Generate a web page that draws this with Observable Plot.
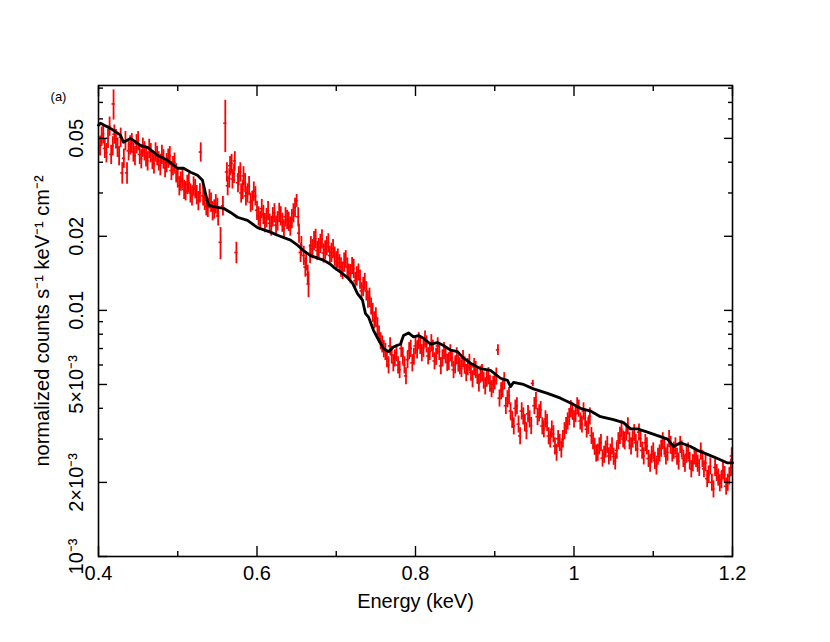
<!DOCTYPE html>
<html><head><meta charset="utf-8">
<script src="https://cdn.jsdelivr.net/npm/d3@7"></script>
<script src="https://cdn.jsdelivr.net/npm/@observablehq/plot@0.6"></script>
<style>body{margin:0;background:#fff;}</style>
</head><body><div id="chart"></div>
<script>
// Model (black line)
const modelEnergy = [0.400,0.4025,0.4151,0.4278,0.4315,0.4404,0.4530,0.4618,0.4744,0.4871,
  0.4997,0.5073,0.5161,0.5249,0.5312,0.5350,0.5388,0.5502,0.5577,0.5666,
  0.5754,0.5880,0.6006,0.6170,0.6259,0.6423,0.6511,0.6587,0.6675,0.6839,
  0.6927,0.6965,0.7054,0.7142,0.7205,0.7268,0.7331,0.7369,0.7407,0.7470,
  0.7533,0.7596,0.7659,0.7722,0.7811,0.7849,0.7912,0.7975,0.8038,0.8101,
  0.8189,0.8278,0.8353,0.8442,0.8530,0.8606,0.8694,0.8820,0.8946,0.9073,
  0.9161,0.9199,0.9237,0.9363,0.9489,0.9666,0.9830,0.9956,1.0082,1.0208,
  1.0334,1.0498,1.0625,1.0713,1.0801,1.0927,1.1054,1.1180,1.1256,1.1344,
  1.1470,1.1558,1.1685,1.1811,1.1937,1.2000];
const modelCounts = [0.0565,0.0576,0.0549,0.0515,0.0482,0.0500,0.0468,0.0460,0.0427,0.0407,
  0.0378,0.0378,0.0364,0.0354,0.0338,0.0299,0.0267,0.0262,0.0260,0.0250,
  0.0239,0.0232,0.0217,0.0208,0.0202,0.0193,0.0184,0.0175,0.0167,0.0160,
  0.0154,0.0150,0.0143,0.0136,0.0129,0.0117,0.0110,0.0097,0.0094,0.0083,
  0.0076,0.0070,0.0068,0.0071,0.0073,0.0079,0.0081,0.0078,0.0079,0.0077,
  0.0073,0.0074,0.0072,0.0069,0.0068,0.0064,0.0061,0.0058,0.0057,0.0053,
  0.0052,0.0049,0.0051,0.0050,0.0048,0.0046,0.0044,0.0042,0.0040,0.0039,
  0.0037,0.0036,0.0035,0.0033,0.0033,0.0032,0.0031,0.0030,0.0028,0.0029,
  0.0028,0.0027,0.0026,0.0025,0.0024,0.0024];

// Data (red crosses): bin energy, counts, relative error
const redEnergy = [
  0.402,0.406,0.410,0.414,0.418,0.419,0.422,0.426,0.430,0.434,0.436,0.438,0.442,0.446,0.450,0.454,0.458,0.462,0.466,0.470,0.474,0.478,0.482,0.486,0.490,0.494,0.498,
  0.502,0.506,0.510,0.514,0.518,0.522,0.526,0.529,0.532,0.536,0.540,0.544,0.548,0.551,0.554,0.557,0.560,0.563,0.566,0.569,0.572,0.574,0.577,0.580,0.583,0.586,0.590,0.594,0.598,
  0.602,0.606,0.610,0.614,0.618,0.622,0.626,0.630,0.634,0.638,0.642,0.646,0.650,0.653,0.656,0.659,0.662,0.665,0.668,0.672,0.676,0.680,0.684,0.688,0.692,0.696,0.700,
  0.704,0.708,0.712,0.716,0.720,0.724,0.728,0.732,0.736,0.740,0.744,0.748,0.752,0.756,0.760,0.764,0.768,0.772,0.776,0.780,0.784,0.788,0.792,0.796,0.800,
  0.804,0.808,0.812,0.816,0.820,0.824,0.828,0.832,0.836,0.840,0.844,0.848,0.852,0.856,0.860,0.864,0.868,0.872,0.876,0.880,0.884,0.888,0.892,0.896,0.900,
  0.904,0.908,0.912,0.916,0.920,0.924,0.928,0.932,0.936,0.940,0.944,0.948,0.952,0.956,0.960,0.964,0.968,0.972,0.976,0.980,0.984,0.988,0.992,0.996,1.000,
  1.004,1.008,1.012,1.016,1.020,1.024,1.028,1.032,1.036,1.040,1.044,1.048,1.052,1.056,1.060,1.064,1.068,1.072,1.076,1.080,1.084,1.088,1.092,1.096,1.100,
  1.104,1.108,1.112,1.116,1.120,1.124,1.128,1.132,1.136,1.140,1.144,1.148,1.152,1.156,1.160,1.164,1.168,1.172,1.176,1.180,1.184,1.188,1.192,1.196,1.199,
  0.404,0.408,0.412,0.416,0.420,0.424,0.428,0.432,0.440,0.444,0.448,0.452,0.456,0.460,0.464,0.468,0.472,0.476,0.480,0.484,0.488,0.492,0.496,0.500,
  0.504,0.508,0.512,0.516,0.520,0.524,0.528,0.534,0.538,0.542,0.546,0.550,0.562,0.565,0.568,0.571,0.576,0.579,0.582,0.585,0.588,0.592,0.596,0.600,
  0.604,0.608,0.612,0.616,0.620,0.624,0.628,0.632,0.636,0.640,0.644,0.648,0.652,0.655,0.661,0.664,0.667,0.670,0.674,0.678,0.682,0.686,0.690,0.694,0.698,
  0.702,0.706,0.710,0.714,0.718,0.722,0.726,0.730,0.734,0.738,0.742,0.746,0.750,
  0.754,0.758,0.762,0.766,0.770,0.774,0.778,0.782,0.786,0.790,0.794,0.798,0.802,0.806,0.810,0.814,0.818,0.822,0.826,
  0.830,0.834,0.838,0.842,0.846,0.850,0.854,0.858,0.862,0.866,0.870,0.874,0.878,0.882,0.886,0.890,0.894,0.898,
  0.902,0.906,0.910,0.914,0.918,0.922,0.926,0.930,0.934,0.938,0.942,0.946,0.950,0.954,0.958,0.962,0.966,0.970,0.974,0.978,0.982,0.986,0.990,0.994,0.998,
  1.002,1.006,1.010,1.014,1.018,1.022,1.026,1.030,1.034,1.038,1.042,1.046,1.050,1.054,1.058,1.062,1.066,1.070,1.074,1.078,1.082,1.086,1.090,1.094,1.098,
  1.102,1.106,1.110,1.114,1.118,1.122,1.126,1.130,1.134,1.138,1.142,1.146,1.150,1.154,1.158,1.162,1.166,1.170,1.174,1.178,1.182,1.186,1.190,1.194,1.198];
const redCounts = [
  0.0466,0.0522,0.0437,0.0560,0.0466,0.0690,0.0498,0.0425,0.0362,0.0489,0.0362,0.0445,0.0480,0.0425,0.0489,0.0413,0.0445,0.0405,0.0437,0.0394,0.0425,0.0387,0.0413,0.0398,0.0425,0.0387,0.0362,
  0.0321,0.0342,0.0306,0.0330,0.0292,0.0312,0.0279,0.0440,0.0292,0.0266,0.0284,0.0254,0.0271,0.0242,0.0189,0.0266,0.0576,0.0321,0.0387,0.0342,0.0405,0.0172,0.0352,0.0300,0.0352,0.0292,0.0321,0.0279,0.0292,
  0.0242,0.0259,0.0227,0.0254,0.0220,0.0249,0.0231,0.0242,0.0214,0.0234,0.0220,0.0249,0.0279,0.0206,0.0183,0.0167,0.0159,0.0128,0.0183,0.0192,0.0175,0.0187,0.0171,0.0183,0.0167,0.0178,0.0159,
  0.0156,0.0145,0.0162,0.0143,0.0152,0.0132,0.0143,0.0120,0.0131,0.0111,0.0104,0.00914,0.00865,0.00752,0.00698,0.00636,0.00717,0.00612,0.00672,0.00574,0.00653,0.00542,0.00685,0.00612,0.00717,
  0.00752,0.00672,0.00764,0.00653,0.00738,0.00623,0.00717,0.00595,0.00685,0.00614,0.00672,0.00574,0.00653,0.00595,0.00636,0.00558,0.00614,0.00527,0.00574,0.00507,0.00558,0.00493,0.00542,0.00480,0.00517,
  0.00691,0.00471,0.00517,0.00437,0.00390,0.00339,0.00409,0.00309,0.00372,0.00324,0.00362,0.00505,0.00429,0.00383,0.00339,0.00362,0.00309,0.00329,0.00281,0.00301,0.00273,0.00324,0.00355,0.00398,0.00362,
  0.00409,0.00355,0.00390,0.00329,0.00372,0.00295,0.00263,0.00281,0.00251,0.00273,0.00256,0.00281,0.00244,0.00295,0.00329,0.00295,0.00339,0.00281,0.00318,0.00273,0.00301,0.00256,0.00281,0.00239,0.00268,
  0.00233,0.00263,0.00295,0.00256,0.00301,0.00263,0.00281,0.00244,0.00273,0.00239,0.00268,0.00227,0.00256,0.00239,0.00268,0.00227,0.00207,0.00233,0.00188,0.00219,0.00199,0.00223,0.00193,0.00212,0.00256,
  0.0510,0.0455,0.0500,0.0430,0.0520,0.0460,0.0505,0.0415,0.0470,0.0440,0.0475,0.0430,0.0460,0.0420,0.0455,0.0410,0.0440,0.0405,0.0430,0.0380,0.0415,0.0370,0.0400,0.0345,
  0.0335,0.0310,0.0325,0.0300,0.0320,0.0295,0.0300,0.0280,0.0262,0.0275,0.0258,0.0262,0.0365,0.0345,0.0395,0.0360,0.0330,0.0365,0.0310,0.0330,0.0300,0.0275,0.0305,0.0255,
  0.0232,0.0245,0.0238,0.0226,0.0240,0.0222,0.0250,0.0228,0.0240,0.0230,0.0236,0.0262,0.0240,0.0172,0.0150,0.0140,0.0170,0.0178,0.0196,0.0180,0.0195,0.0176,0.0188,0.0172,0.0166,
  0.0163,0.0150,0.0157,0.0150,0.0141,0.0148,0.0138,0.0134,0.0125,0.0120,0.0113,0.0098,0.0094,
  0.00800,0.00730,0.00680,0.00600,0.00660,0.00640,0.00600,0.00700,0.00600,0.00630,0.00700,0.00650,0.00690,0.00720,0.00700,0.00730,0.00680,0.00700,0.00650,
  0.00680,0.00640,0.00660,0.00620,0.00640,0.00600,0.00610,0.00580,0.00600,0.00590,0.00560,0.00590,0.00545,0.00550,0.00520,0.00530,0.00505,0.00500,
  0.00540,0.00440,0.00480,0.00410,0.00450,0.00360,0.00400,0.00345,0.00390,0.00350,0.00380,0.00340,0.00410,0.00370,0.00395,0.00330,0.00350,0.00300,0.00315,0.00265,0.00290,0.00300,0.00340,0.00370,0.00390,
  0.00380,0.00400,0.00345,0.00365,0.00340,0.00310,0.00280,0.00265,0.00290,0.00260,0.00285,0.00265,0.00255,0.00270,0.00310,0.00300,0.00320,0.00295,0.00300,0.00290,0.00320,0.00270,0.00290,0.00250,0.00260,
  0.00245,0.00255,0.00275,0.00280,0.00265,0.00285,0.00270,0.00255,0.00285,0.00250,0.00260,0.00245,0.00240,0.00250,0.00230,0.00250,0.00240,0.00215,0.00200,0.00230,0.00210,0.00205,0.00215,0.00200,0.00230];
const redError = [
  0.09,0.09,0.09,0.09,0.09,0.14,0.09,0.09,0.10,0.09,0.10,0.09,0.09,0.09,0.09,0.09,0.09,0.09,0.09,0.09,0.09,0.09,0.09,0.09,0.09,0.09,0.09,
  0.09,0.09,0.09,0.09,0.09,0.09,0.09,0.09,0.09,0.09,0.09,0.09,0.09,0.09,0.15,0.09,0.24,0.09,0.09,0.09,0.09,0.10,0.09,0.09,0.09,0.09,0.09,0.09,0.09,
  0.09,0.09,0.09,0.09,0.09,0.09,0.09,0.09,0.09,0.09,0.09,0.09,0.06,0.09,0.09,0.09,0.09,0.12,0.09,0.09,0.09,0.09,0.09,0.09,0.09,0.09,0.09,
  0.08,0.08,0.08,0.08,0.08,0.08,0.08,0.08,0.08,0.08,0.08,0.08,0.08,0.08,0.08,0.08,0.08,0.08,0.08,0.08,0.08,0.08,0.08,0.08,0.08,
  0.08,0.08,0.08,0.08,0.08,0.08,0.08,0.08,0.08,0.08,0.08,0.08,0.08,0.08,0.08,0.08,0.08,0.08,0.08,0.08,0.08,0.08,0.08,0.08,0.08,
  0.05,0.08,0.08,0.08,0.08,0.08,0.08,0.08,0.08,0.08,0.08,0.03,0.08,0.08,0.08,0.08,0.08,0.08,0.08,0.08,0.08,0.08,0.08,0.08,0.08,
  0.08,0.08,0.08,0.08,0.08,0.08,0.08,0.08,0.08,0.08,0.08,0.08,0.08,0.08,0.08,0.08,0.08,0.08,0.08,0.08,0.08,0.08,0.08,0.08,0.08,
  0.08,0.08,0.08,0.08,0.08,0.08,0.08,0.08,0.08,0.08,0.08,0.08,0.08,0.08,0.08,0.08,0.08,0.08,0.08,0.08,0.08,0.08,0.08,0.08,0.08,
  0.09,0.09,0.09,0.09,0.09,0.09,0.09,0.09,0.09,0.09,0.09,0.09,0.09,0.09,0.09,0.09,0.09,0.09,0.09,0.09,0.09,0.09,0.09,0.09,
  0.09,0.09,0.09,0.09,0.09,0.09,0.09,0.09,0.09,0.09,0.09,0.09,0.09,0.09,0.09,0.09,0.09,0.09,0.09,0.09,0.09,0.09,0.09,0.09,
  0.09,0.09,0.09,0.09,0.09,0.09,0.09,0.09,0.09,0.09,0.09,0.09,0.09,0.09,0.09,0.09,0.09,0.09,0.09,0.09,0.09,0.09,0.09,0.09,0.09,
  0.09,0.09,0.09,0.09,0.09,0.09,0.09,0.09,0.09,0.09,0.09,0.09,0.09,
  0.08,0.08,0.08,0.08,0.08,0.08,0.08,0.08,0.08,0.08,0.08,0.08,0.08,0.08,0.08,0.08,0.08,0.08,0.08,
  0.08,0.08,0.08,0.08,0.08,0.08,0.08,0.08,0.08,0.08,0.08,0.08,0.08,0.08,0.08,0.08,0.08,0.08,
  0.08,0.08,0.08,0.08,0.08,0.08,0.08,0.08,0.08,0.08,0.08,0.08,0.08,0.08,0.08,0.08,0.08,0.08,0.08,0.08,0.08,0.08,0.08,0.08,0.08,
  0.08,0.08,0.08,0.08,0.08,0.08,0.08,0.08,0.08,0.08,0.08,0.08,0.08,0.08,0.08,0.08,0.08,0.08,0.08,0.08,0.08,0.08,0.08,0.08,0.08,
  0.08,0.08,0.08,0.08,0.08,0.08,0.08,0.08,0.08,0.08,0.08,0.08,0.08,0.08,0.08,0.08,0.08,0.08,0.08,0.08,0.08,0.08,0.08,0.08,0.08];

const xMajorTicks = [0.4, 0.6, 0.8, 1.0, 1.2];
const xMinorTicks = [0.5, 0.7, 0.9, 1.1];
const xTickLabels = ["0.4", "0.6", "0.8", "1", "1.2"];
const yMajorTicks = [0.001, 0.002, 0.005, 0.01, 0.02, 0.05];
const yMinorTicks = [0.003, 0.004, 0.006, 0.007, 0.008, 0.009, 0.03, 0.04, 0.06, 0.07, 0.08];
const yTickLabels = ["10⁻³", "2×10⁻³", "5×10⁻³", "0.01", "0.02", "0.05"];

const model = modelEnergy.map((e, i) => ({e, v: modelCounts[i]}));
const red = redEnergy.map((e, i) => ({
  e, v: redCounts[i],
  lo: redCounts[i] * (1 - redError[i]),
  hi: redCounts[i] * (1 + redError[i])
}));
const binHalf = 0.002;
const RED = "#ff0000";
const font = "'Liberation Sans', Arial, Helvetica, sans-serif";
const blank = () => "";
const mid = {textAnchor: "middle", lineAnchor: "middle"};

const chart = Plot.plot({
  width: 830, height: 642,
  marginLeft: 98, marginRight: 98, marginTop: 85, marginBottom: 86,
  style: {fontFamily: font, fontSize: "20px", background: "white", color: "black", overflow: "visible"},
  x: {domain: [0.4, 1.2]},
  y: {type: "log", domain: [0.001, 0.082]},
  marks: [
    Plot.ruleX(red, {x: "e", y1: "lo", y2: "hi", stroke: RED, strokeWidth: 1.8}),
    Plot.ruleY(red, {y: "v", x1: d => d.e - binHalf, x2: d => d.e + binHalf, stroke: RED, strokeWidth: 1.6}),
    Plot.line(model, {x: "e", y: "v", stroke: "black", strokeWidth: 2.8, strokeLinejoin: "round"}),
    Plot.frame({stroke: "black", strokeWidth: 1.6}),
    Plot.axisX(xMajorTicks, {anchor: "bottom", tickSize: -10, tickFormat: blank, label: null, strokeWidth: 1.4}),
    Plot.axisX(xMinorTicks, {anchor: "bottom", tickSize: -5, tickFormat: blank, label: null, strokeWidth: 1.4}),
    Plot.axisX(xMajorTicks, {anchor: "top", tickSize: -10, tickFormat: blank, label: null, strokeWidth: 1.4}),
    Plot.axisX(xMinorTicks, {anchor: "top", tickSize: -5, tickFormat: blank, label: null, strokeWidth: 1.4}),
    Plot.axisY(yMajorTicks, {anchor: "left", tickSize: -9, tickFormat: blank, label: null, strokeWidth: 1.4}),
    Plot.axisY(yMinorTicks, {anchor: "left", tickSize: -5, tickFormat: blank, label: null, strokeWidth: 1.4}),
    Plot.axisY(yMajorTicks, {anchor: "right", tickSize: -9, tickFormat: blank, label: null, strokeWidth: 1.4}),
    Plot.axisY(yMinorTicks, {anchor: "right", tickSize: -5, tickFormat: blank, label: null, strokeWidth: 1.4}),
    Plot.text(xMajorTicks, {x: d => d, text: (d, i) => xTickLabels[i], frameAnchor: "bottom", dy: 17, fontSize: 20, ...mid}),
    Plot.text(yMajorTicks, {y: d => d, text: (d, i) => yTickLabels[i], frameAnchor: "left", dx: -22, rotate: -90, fontSize: 20, ...mid}),
    Plot.text(["Energy (keV)"], {frameAnchor: "bottom", dy: 45, fontSize: 20, ...mid}),
    Plot.text(["normalized counts s⁻¹ keV⁻¹ cm⁻²"], {frameAnchor: "left", dx: -56, rotate: -90, fontSize: 20, ...mid}),
    Plot.text(["(a)"], {frameAnchor: "top-left", dx: -40, dy: 11, fontSize: 13, ...mid})
  ]
});
document.getElementById("chart").appendChild(chart);
</script>
</body></html>
